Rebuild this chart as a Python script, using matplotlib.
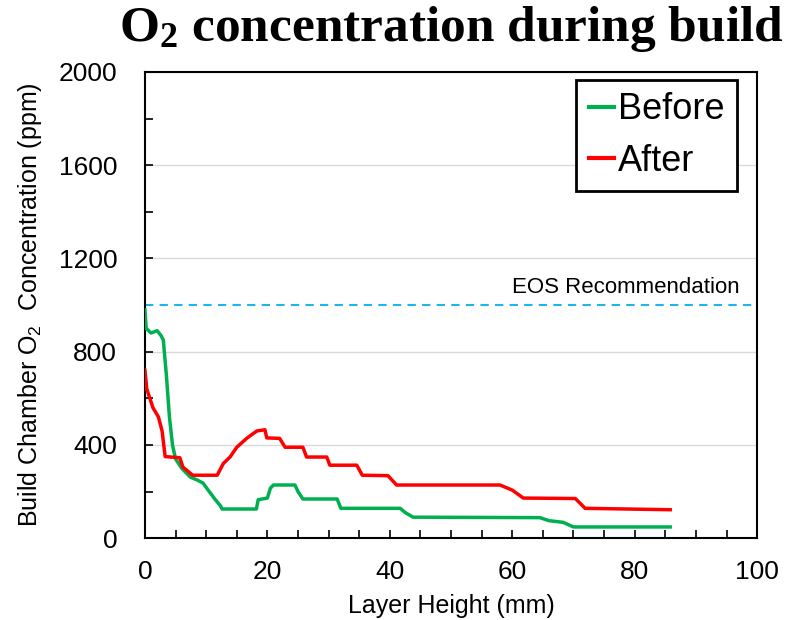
import matplotlib
matplotlib.use("Agg")
import matplotlib.pyplot as plt
from matplotlib.ticker import MultipleLocator

# Layer height (mm) and O2 concentration (ppm)
before_x = [0, 0.2, 1, 2, 2.6, 3.0, 3.5, 4.0, 4.5, 5.0, 6.0, 7.4, 8.5, 9.5, 10.5, 11.5,
            12.3, 12.6, 18.2, 18.5, 20.0, 20.5, 21.0, 24.5, 25.0, 25.8, 31.4, 32.0,
            41.7, 42.5, 43.8, 64.5, 66.0, 68.3, 70.0, 85.8]
before_y = [980, 900, 880, 890, 870, 850, 700, 520, 400, 340, 300, 262, 250, 236, 200, 165,
            140, 125, 125, 165, 172, 215, 228, 228, 200, 168, 168, 128,
            128, 110, 90, 88, 75, 68, 48, 48]

after_x = [0, 0.3, 1.3, 2.2, 2.8, 3.3, 5.7, 6.2, 7.8, 11.8, 12.8, 13.9, 15.0, 16.7, 18.3,
           19.6, 19.9, 22.0, 22.9, 25.8, 26.4, 29.7, 30.2, 34.6, 35.5, 39.7, 41.1, 58.0,
           60.0, 61.8, 70.3, 71.9, 85.8]
after_y = [720, 640, 560, 520, 460, 350, 345, 305, 270, 270, 320, 348, 390, 430, 460,
           465, 430, 428, 390, 390, 348, 348, 313, 313, 270, 268, 228, 228,
           206, 172, 170, 128, 122]

eos_limit = 1000

plt.rcParams["font.family"] = "Liberation Sans"
plt.rcParams["mathtext.fontset"] = "custom"
plt.rcParams["mathtext.rm"] = "Liberation Sans"
plt.rcParams["mathtext.bf"] = "Liberation Serif:bold"

fig = plt.figure(figsize=(7.92, 6.2), dpi=100)
ax = fig.add_axes([0.183, 0.132, 0.773, 0.752])

ax.axhline(eos_limit, color="#1FB4EA", lw=1.5, ls=(0, (4, 3)), zorder=2)
ax.plot(before_x, before_y, color="#00B050", lw=2.5, label="Before", zorder=3)
ax.plot(after_x, after_y, color="#FF0000", lw=2.5, label="After", zorder=3)

ax.text(97.2, 1030, "EOS Recommendation", ha="right", va="bottom", fontsize=16)

ax.set_xlim(0, 100)
ax.set_ylim(0, 2000)
ax.xaxis.set_major_locator(MultipleLocator(20))
ax.xaxis.set_minor_locator(MultipleLocator(5))
ax.yaxis.set_major_locator(MultipleLocator(400))
ax.yaxis.set_minor_locator(MultipleLocator(200))
ax.tick_params(axis="both", which="both", direction="in", length=6, width=1.2)
ax.tick_params(axis="x", which="major", labelsize=19, pad=16)
ax.tick_params(axis="y", which="major", labelsize=19, pad=20)
ax.grid(axis="y", which="major", color="#D9D9D9", lw=1)
ax.set_axisbelow(True)
for s in ax.spines.values():
    s.set_linewidth(1.5)

ax.set_xlabel("Layer Height (mm)", fontsize=18, va="center")
ax.set_ylabel(r"Build Chamber O$_2$  Concentration (ppm)", fontsize=18, va="center")
ax.yaxis.set_label_coords(-0.188, 0.5)
ax.xaxis.set_label_coords(0.5, -0.145)

leg = ax.legend(loc="upper right", bbox_to_anchor=(0.967, 0.983), borderaxespad=0,
                fontsize=26, handlelength=0.7, handletextpad=0.1, borderpad=0.35,
                labelspacing=0.45, fancybox=False, framealpha=1, edgecolor="black")
leg.get_frame().set_linewidth(2)
for h in leg.get_lines():
    h.set_linewidth(3)

fig.text(0.57, 0.953, r"O$\mathbf{_2}$ concentration during build", ha="center", va="center",
         fontsize=37, fontweight="bold", family="Liberation Serif")

fig.savefig("out.png", dpi=100, facecolor="white")
